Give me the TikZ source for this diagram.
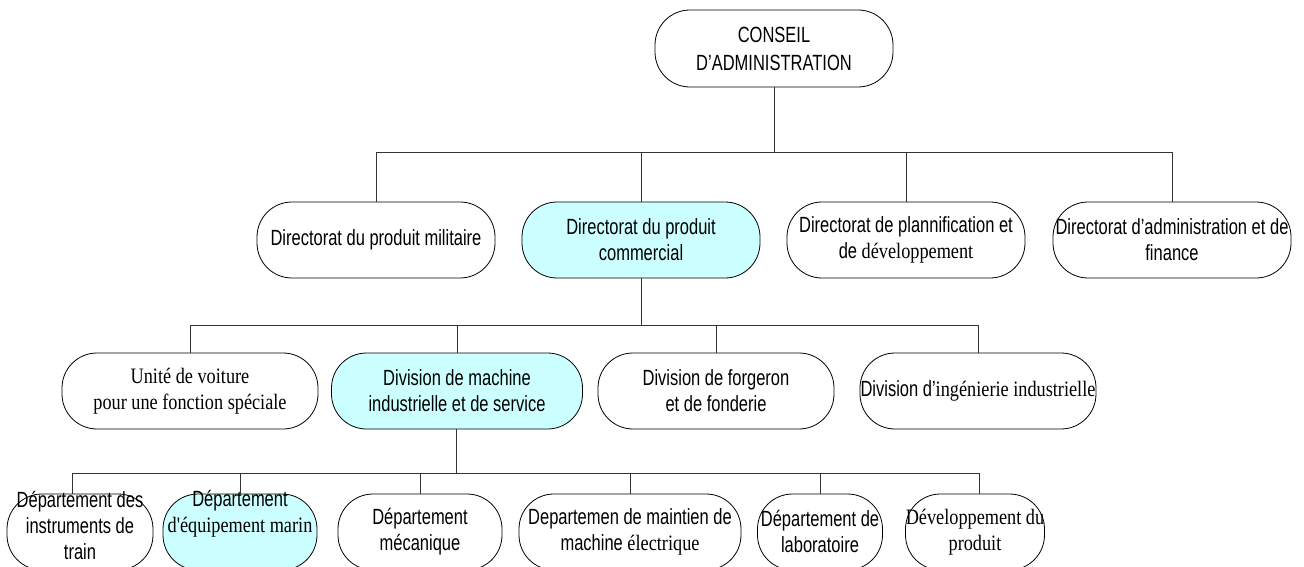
\documentclass[tikz,border=0pt]{standalone}
\usepackage{fontspec}
\setmainfont[FakeStretch=0.75]{Liberation Sans}
\newfontfamily\romanpart[FakeStretch=0.83]{Liberation Serif}
\definecolor{paleaqua}{HTML}{CCFFFF}
\tikzset{
  unit/.style={draw=black, line width=0.8pt, rounded corners=35pt,
    minimum width=238pt, minimum height=76pt, inner sep=0pt, align=center,
    font=\fontsize{22}{26}\selectfont},
  boxw/.style={minimum width=#1},
  hl/.style={fill=paleaqua},
  serifed/.style={font=\fontsize{22}{26}\selectfont\romanpart},
  caption/.style={align=center, inner sep=0pt, font=\fontsize{22}{26}\selectfont},
  link/.style={draw=black!80, line width=0.9pt}
}
\begin{document}
\begin{tikzpicture}[x=1pt, y=-1pt]
\useasboundingbox (0,0) rectangle (1304,567);
\clip (0,0) rectangle (1304,567);

% board
\node[unit, minimum height=77pt, font=\fontsize{22}{28}\selectfont] (board) at (774,48.5) {CONSEIL\\D'ADMINISTRATION};

% directorates
\node[unit] (d1) at (376,240) {Directorat du produit militaire};
\node[unit, hl] (d2) at (641,240) {Directorat du produit\\commercial};
\node[unit] (d3) at (906,240) {Directorat de plannification et\\de {\romanpart développement}};
\node[unit] (d4) at (1172,240) {Directorat d'administration et de\\finance};

% divisions
\node[unit, serifed, boxw=256pt] (v1) at (190,391) {Unité de voiture\\pour une fonction spéciale};
\node[unit, hl, boxw=251pt] (v2) at (457,391) {Division de machine\\industrielle et de service};
\node[unit, boxw=236pt] (v3) at (716,391) {Division de forgeron\\et de fonderie};
\node[unit, boxw=236pt] (v4) at (978,391) {Division d'{\romanpart ingénierie industrielle}};

% departments
\node[unit, boxw=146pt] (p1) at (80,532) {};
\node[caption] (p1t) at ([yshift=6pt]p1.center) {Département des\\instruments de\\train};
\node[unit, hl, boxw=154pt] (p2) at (240,532) {};
\node[caption] (p2t) at ([yshift=18pt]p2.center) {Département\\{\romanpart d'équipement marin}};
\node[unit, boxw=164pt] (p3) at (420,532) {Département\\mécanique};
\node[unit, boxw=222pt] (p4) at (630,532) {Departemen de maintien de\\machine {\romanpart électrique}};
\node[unit, boxw=125pt] (p5) at (820,532) {Département de\\laboratoire};
\node[unit, serifed, boxw=139pt] (p6) at (975,532) {Développement du\\produit};

% bus levels
\coordinate (bus1) at (774,152);
\coordinate (bus2) at (641,325);
\coordinate (bus3) at (456,473);

% board to directorates
\draw[link] (board.south) -- (bus1);
\draw[link] (d1.north) -- (d1.north |- bus1) -- (d4.north |- bus1) -- (d4.north);
\foreach \n in {d2,d3} \draw[link] (\n.north) -- (\n.north |- bus1);

% commercial directorate to divisions
\draw[link] (d2.south) -- (bus2);
\draw[link] (v1.north) -- (v1.north |- bus2) -- (v4.north |- bus2) -- (v4.north);
\foreach \n in {v2,v3} \draw[link] (\n.north) -- (\n.north |- bus2);

% industrial machine division to departments
\draw[link] ([xshift=-1pt]v2.south) -- (bus3);
\coordinate (p1top) at ([xshift=-8pt]p1.north);
\coordinate (p6top) at ([xshift=4pt]p6.north);
\draw[link] (p1top) -- (p1top |- bus3) -- (p6top |- bus3) -- (p6top);
\foreach \n in {p2,p3,p4,p5} \draw[link] (\n.north) -- (\n.north |- bus3);
\end{tikzpicture}
\end{document}
